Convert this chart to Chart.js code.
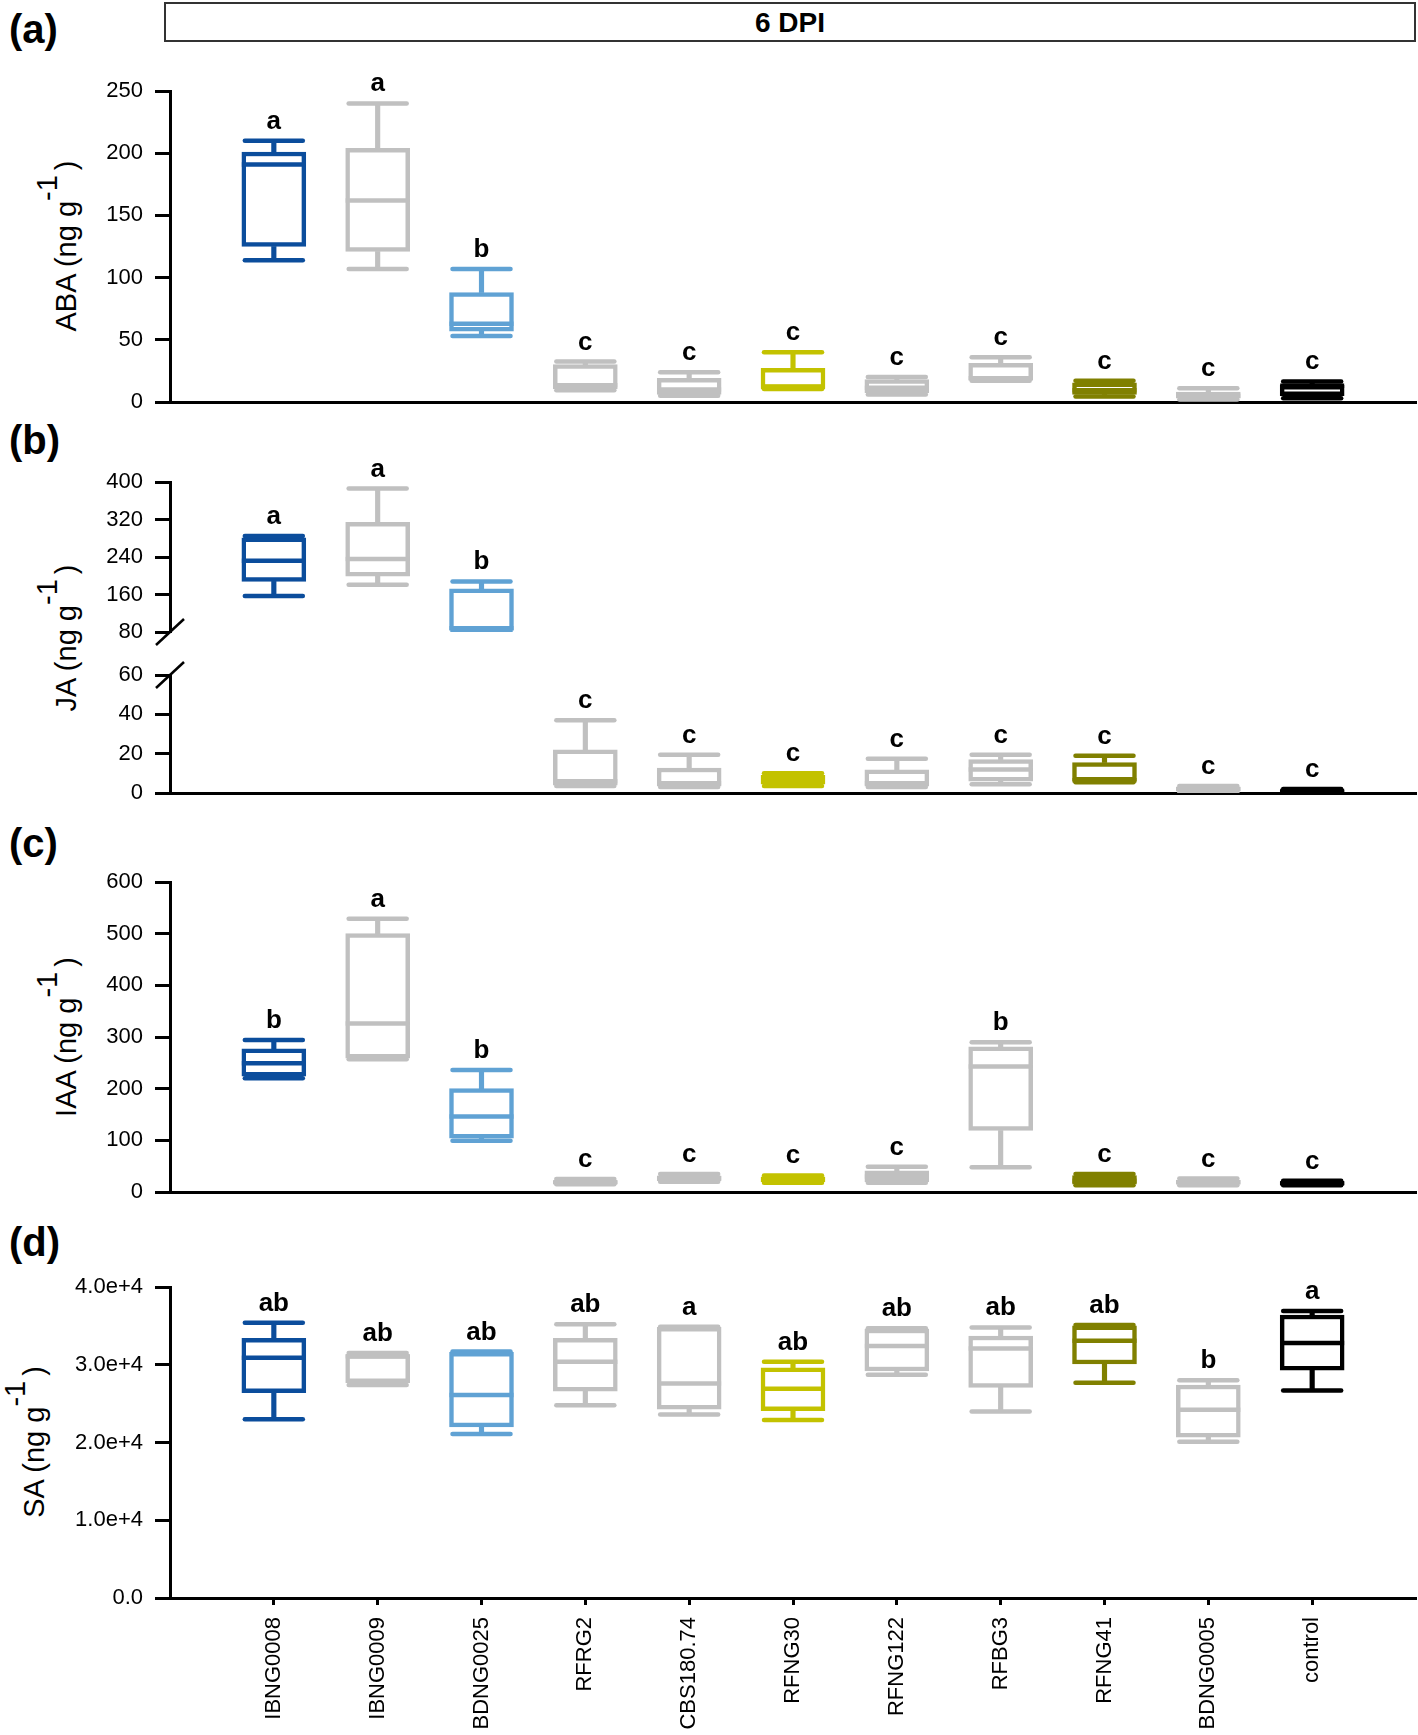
<!DOCTYPE html>
<html><head><meta charset="utf-8">
<script src="https://cdn.jsdelivr.net/npm/chart.js@4.4.1/dist/chart.umd.min.js"></script>
<style>
html,body{margin:0;padding:0;background:#fff;}
body{width:1418px;height:1735px;position:relative;overflow:hidden;font-family:'Liberation Sans',Arial,sans-serif;color:#000;}
.plabel{position:absolute;left:9px;font-weight:bold;font-size:40px;line-height:40px;}
.ytitle{position:absolute;width:320px;height:40px;line-height:40px;font-size:29px;text-align:center;white-space:nowrap;transform:rotate(-90deg);}
.ytitle .sup{position:relative;top:-19px;}
.ytitle .cl{margin-left:5px;}
#dpi{position:absolute;left:164px;top:2px;width:1248px;height:36px;border:2px solid #333;text-align:center;font-weight:bold;font-size:28px;line-height:38px;}
</style>
</head><body>
<div id="dpi">6 DPI</div>
<div class="plabel" style="top:9px">(a)</div>
<div class="plabel" style="top:420px">(b)</div>
<div class="plabel" style="top:823px">(c)</div>
<div class="plabel" style="top:1222px">(d)</div>
<div class="ytitle" style="left:-94px;top:226px">ABA (ng g<span class="sup">-1</span><span class="cl">)</span></div>
<div class="ytitle" style="left:-94px;top:618px">JA (ng g<span class="sup">-1</span><span class="cl">)</span></div>
<div class="ytitle" style="left:-94px;top:1017px">IAA (ng g<span class="sup">-1</span><span class="cl">)</span></div>
<div class="ytitle" style="left:-126px;top:1422px">SA (ng g<span class="sup">-1</span><span class="cl">)</span></div>
<script>
// ---------- data ----------
const categories = ['IBNG0008','IBNG0009','BDNG0025','RFRG2','CBS180.74','RFNG30','RFNG122','RFBG3','RFNG41','BDNG0005','control'];
const colors = ['#0b4d9c','#c0c0c0','#60a2d4','#c0c0c0','#c0c0c0','#c3c200','#c0c0c0','#c0c0c0','#808000','#c0c0c0','#000000'];

// ABA
const abaMin = [114, 107, 53, 9.5, 5, 10.5, 6, 17, 4.5, 2, 3];
const abaQ1  = [125, 121, 57, 10.5, 6, 11, 7.5, 17.5, 6, 3, 5];
const abaMed = [191, 162, 63, 13.5, 10, 12, 11.5, 19, 9.5, 5, 13];
const abaQ3  = [201, 204, 88, 30, 19, 27, 18, 31, 15.5, 8, 13.5];
const abaMax = [210, 240, 107, 32.5, 24, 40, 20, 36, 17, 11, 16.5];
const abaLetters = ['a','a','b','c','c','c','c','c','c','c','c'];
const abaTicks = [0, 50, 100, 150, 200, 250];
const abaTickLabels = ['0','50','100','150','200','250'];

// JA
const jaMin = [157, 181, 82, 3.5, 3, 3.5, 3, 4.5, 5.5, 0.5, 0.3];
const jaQ1  = [188, 199, 84, 4, 3.5, 4.5, 3.5, 6, 6, 1, 0.5];
const jaMed = [232, 236, 88, 6, 5, 6.5, 5, 12, 6.5, 2, 1];
const jaQ3  = [281, 314, 172, 22, 12.7, 9, 11.8, 17, 15.5, 3, 1.5];
const jaMax = [285, 386, 188, 37, 19.4, 10, 17.4, 19.5, 19, 3.5, 2];
const jaLetters = ['a','a','b','c','c','c','c','c','c','c','c'];
const jaUpperTicks = [80, 160, 240, 320, 400];
const jaUpperTickLabels = ['80','160','240','320','400'];
const jaLowerTicks = [0, 20, 40, 60];
const jaLowerTickLabels = ['0','20','40','60'];

// IAA
const iaaMin = [220, 257, 99, 15, 20, 18, 18, 48, 13, 13, 13];
const iaaQ1  = [224, 259, 104, 16, 22, 20, 20, 119, 15, 15, 14];
const iaaMed = [249, 326, 146, 19, 27, 25, 30, 243, 22, 19, 17];
const iaaQ3  = [277, 500, 200, 22, 31, 29, 41, 281, 32, 23, 20];
const iaaMax = [294, 529, 236, 25, 35, 32, 49, 290, 35, 26, 22];
const iaaLetters = ['b','a','b','c','c','c','c','b','c','c','c'];
const iaaTicks = [0, 100, 200, 300, 400, 500, 600];
const iaaTickLabels = ['0','100','200','300','400','500','600'];

// SA
const saMin = [23000, 27400, 21100, 24800, 23600, 22900, 28700, 24000, 27700, 20100, 26700];
const saQ1  = [26400, 27700, 22000, 26600, 24300, 24100, 29200, 27100, 30100, 20700, 29300];
const saMed = [30900, 31100, 26100, 30400, 27600, 26900, 32400, 32100, 33100, 24200, 32800];
const saQ3  = [33400, 31300, 31600, 33400, 34800, 29600, 34600, 33700, 35000, 27400, 36400];
const saMax = [35400, 31500, 31700, 35200, 34900, 30400, 34700, 34800, 35100, 28000, 36900];
const saLetters = ['ab','ab','ab','ab','a','ab','ab','ab','ab','b','a'];
const saTicks = [0, 10000, 20000, 30000, 40000];
const saTickLabels = ['0.0','1.0e+4','2.0e+4','3.0e+4','4.0e+4'];

// ---------- drawing ----------
Chart.defaults.font.family = "'Liberation Sans', Arial, sans-serif";
Chart.defaults.color = '#000';
const xPos = categories.map((c, i) => i + 1);
const LW = 4.5, BOXW = 64, CAPW = 58;
const AREA_LEFT = 170, AREA_RIGHT = 1416;

const capPlugin = {
  id: 'roundcaps',
  beforeDatasetDraw(chart, args) { if (chart.data.datasets[args.index].roundCap) chart.ctx.lineCap = 'round'; },
  afterDatasetDraw(chart) { chart.ctx.lineCap = 'butt'; }
};

function zeroPad(s) { s.paddingLeft = 0; s.paddingRight = 0; s.paddingTop = 0; s.paddingBottom = 0; }

function buildChart(o) {
  const padTop = 40;
  const canvasTop = o.areaTop - padTop;
  const h = padTop + (o.areaBottom - o.areaTop) + o.xHeight;
  const cv = document.createElement('canvas');
  cv.width = 1418; cv.height = h;
  cv.style.cssText = 'position:absolute;left:0;top:' + canvasTop + 'px;width:1418px;height:' + h + 'px';
  document.body.appendChild(cv);
  const idx = categories.map((c, i) => i).filter(i => o.include(i));
  const pts = arr => idx.map(i => ({x: xPos[i], y: arr[i]}));
  const col = idx.map(i => colors[i]);
  const letterPlugin = {
    id: 'letters',
    afterDatasetsDraw(chart) {
      const ctx = chart.ctx, xs = chart.scales.x, ys = chart.scales.y;
      ctx.save();
      ctx.font = "bold 26px 'Liberation Sans', Arial, sans-serif";
      ctx.fillStyle = '#000'; ctx.textAlign = 'center'; ctx.textBaseline = 'alphabetic';
      idx.forEach(i => ctx.fillText(o.letters[i], xs.getPixelForValue(xPos[i]), ys.getPixelForValue(o.max[i]) - 12));
      ctx.restore();
    },
    afterDraw(chart) {
      if (!o.breakAt) return;
      const ctx = chart.ctx, a = chart.chartArea;
      const yy = o.breakAt === 'bottom' ? a.bottom : a.top;
      ctx.save(); ctx.strokeStyle = '#000'; ctx.lineWidth = 2.5;
      ctx.beginPath(); ctx.moveTo(a.left - 14, yy + 13); ctx.lineTo(a.left + 14, yy - 13); ctx.stroke();
      ctx.restore();
    }
  };
  const pointDs = (arr, r, order, round) => ({
    type: 'line', data: pts(arr), showLine: false, pointStyle: 'line', pointRadius: r,
    pointBorderWidth: LW, pointBorderColor: col, pointBackgroundColor: col, order: order, roundCap: round
  });
  const chart = new Chart(cv, {
    type: 'bar',
    data: { datasets: [
      { type: 'bar', data: idx.map(i => ({x: xPos[i], y: [o.q3[i], o.max[i]]})), backgroundColor: col, barThickness: LW, grouped: false, order: 5 },
      { type: 'bar', data: idx.map(i => ({x: xPos[i], y: [o.min[i], o.q1[i]]})), backgroundColor: col, barThickness: LW, grouped: false, order: 5 },
      { type: 'bar', data: idx.map(i => ({x: xPos[i], y: [o.q1[i], o.q3[i]]})), backgroundColor: '#ffffff', borderColor: col, borderWidth: LW, borderSkipped: false, barThickness: BOXW, grouped: false, order: 4 },
      pointDs(o.med, BOXW / 2, 3, false),
      pointDs(o.max, CAPW / 2, 2, true),
      pointDs(o.min, CAPW / 2, 2, true)
    ]},
    options: {
      responsive: false, animation: false, devicePixelRatio: 1, events: [],
      layout: { autoPadding: false, padding: { top: padTop, left: 0, right: 1418 - AREA_RIGHT, bottom: 0 } },
      plugins: { legend: { display: false }, tooltip: { enabled: false } },
      scales: {
        x: {
          type: 'linear', min: 0, max: 12, offset: false,
          grid: { display: !!o.xLabels, offset: false, drawOnChartArea: false, drawTicks: true, tickLength: 7, tickWidth: 3, tickColor: '#000' },
          border: { display: o.xBorder, color: '#000', width: 3 },
          ticks: {
            display: !!o.xLabels, autoSkip: false, minRotation: 90, maxRotation: 90, padding: 12,
            font: { size: 22 }, color: '#000',
            callback: (v, i) => categories[i]
          },
          afterBuildTicks: s => { s.ticks = xPos.map(v => ({value: v})); },
          afterFit: s => { s.height = o.xHeight; zeroPad(s); }
        },
        y: {
          type: 'linear', min: o.yMin, max: o.yMax,
          grid: { drawOnChartArea: false, drawTicks: true, tickLength: 15, tickWidth: 3, tickColor: '#000' },
          border: { display: true, color: '#000', width: 3 },
          ticks: { padding: 12, font: { size: 22 }, color: '#000', callback: (v, i) => o.tickLabels[i] },
          afterBuildTicks: s => { s.ticks = o.ticks.map(v => ({value: v})); },
          afterFit: s => { s.width = AREA_LEFT; zeroPad(s); }
        }
      }
    },
    plugins: [capPlugin, letterPlugin]
  });
}

// (a) ABA
buildChart({ areaTop: 91, areaBottom: 402, xHeight: 20, xBorder: true, yMin: 0, yMax: 250,
  ticks: abaTicks, tickLabels: abaTickLabels, include: i => true,
  min: abaMin, q1: abaQ1, med: abaMed, q3: abaQ3, max: abaMax, letters: abaLetters });
// (b) JA upper part of broken axis
buildChart({ areaTop: 482, areaBottom: 632, xHeight: 20, xBorder: false, yMin: 80, yMax: 400, breakAt: 'bottom',
  ticks: jaUpperTicks, tickLabels: jaUpperTickLabels, include: i => jaMin[i] >= 80,
  min: jaMin, q1: jaQ1, med: jaMed, q3: jaQ3, max: jaMax, letters: jaLetters });
// (b) JA lower part
buildChart({ areaTop: 675, areaBottom: 793, xHeight: 20, xBorder: true, yMin: 0, yMax: 60, breakAt: 'top',
  ticks: jaLowerTicks, tickLabels: jaLowerTickLabels, include: i => jaMax[i] <= 60,
  min: jaMin, q1: jaQ1, med: jaMed, q3: jaQ3, max: jaMax, letters: jaLetters });
// (c) IAA
buildChart({ areaTop: 882, areaBottom: 1192, xHeight: 20, xBorder: true, yMin: 0, yMax: 600,
  ticks: iaaTicks, tickLabels: iaaTickLabels, include: i => true,
  min: iaaMin, q1: iaaQ1, med: iaaMed, q3: iaaQ3, max: iaaMax, letters: iaaLetters });
// (d) SA
buildChart({ areaTop: 1287, areaBottom: 1598, xHeight: 140, xBorder: true, yMin: 0, yMax: 40000, xLabels: true,
  ticks: saTicks, tickLabels: saTickLabels, include: i => true,
  min: saMin, q1: saQ1, med: saMed, q3: saQ3, max: saMax, letters: saLetters });
</script>
</body></html>
